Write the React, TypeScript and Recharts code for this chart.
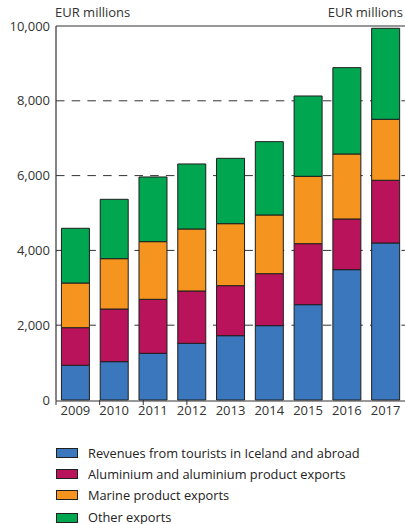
import React from 'react';
import { BarChart, Bar, XAxis, YAxis, CartesianGrid, ReferenceLine, Legend } from 'recharts';

const years = ['2009', '2010', '2011', '2012', '2013', '2014', '2015', '2016', '2017'];
const tourism = [928, 1025, 1248, 1516, 1720, 1988, 2549, 3485, 4198];
const aluminium = [1006, 1408, 1444, 1399, 1337, 1390, 1631, 1355, 1677];
const marine = [1194, 1346, 1542, 1658, 1658, 1569, 1801, 1738, 1631];
const other = [1463, 1587, 1729, 1738, 1747, 1961, 2148, 2309, 2433];
const yTicks = [0, 2000, 4000, 6000, 8000, 10000];
const quarterTicks = [0, 1, 2, 3];

const seriesNames = {
  tourism: 'Revenues from tourists in Iceland and abroad',
  aluminium: 'Aluminium and aluminium product exports',
  marine: 'Marine product exports',
  other: 'Other exports',
};
const colors = {
  tourism: '#3a77bd',
  aluminium: '#b9135b',
  marine: '#f5951f',
  other: '#00a650',
};
const seriesKeys = ['tourism', 'aluminium', 'marine', 'other'] as const;

const data = years.map((year, i) => ({
  year,
  tourism: tourism[i],
  aluminium: aluminium[i],
  marine: marine[i],
  other: other[i],
}));

const FONT = '"Open Sans", "Noto Sans", sans-serif';
const TEXT = '#333333';
const EDGE = '#1f1f1f';

// Unit captions above both ends of the top frame line
const UnitLabels = (props: any) => {
  const vb = props.viewBox || {};
  return (
    <g>
      <text x={vb.x - 1} y={vb.y - 9} textAnchor="start" fontSize={13} fontFamily={FONT} fill={TEXT}>
        EUR millions
      </text>
      <text x={vb.x + vb.width - 2} y={vb.y - 9} textAnchor="end" fontSize={13} fontFamily={FONT} fill={TEXT}>
        EUR millions
      </text>
    </g>
  );
};

const LegendList = () => (
  <div
    style={{
      height: 84,
      paddingTop: 2,
      boxSizing: 'border-box',
      fontFamily: FONT,
      fontSize: 12.8,
      lineHeight: '14px',
      color: '#222',
    }}
  >
    {seriesKeys.map((k, i) => (
      <div
        key={k}
        style={{ height: i === seriesKeys.length - 1 ? 18 : 21.33, display: 'flex', alignItems: i === seriesKeys.length - 1 ? 'flex-start' : 'center', paddingTop: i === seriesKeys.length - 1 ? 3.7 : 0, boxSizing: 'border-box' }}
      >
        <span
          style={{
            display: 'inline-block',
            width: 20,
            height: 8,
            marginLeft: 56,
            marginRight: 10,
            marginTop: i === seriesKeys.length - 1 ? 3 : 0,
            background: colors[k],
            border: `1px solid ${EDGE}`,
          }}
        />
        <span>{seriesNames[k]}</span>
      </div>
    ))}
  </div>
);

export default function App() {
  return (
    <div style={{ position: 'absolute', left: 0, top: 0, width: 405, height: 524, background: '#fff' }}>
      <BarChart
        width={405}
        height={524}
        data={data}
        margin={{ top: 26, right: 0, bottom: 0, left: 0 }}
        barCategoryGap="14%"
      >
        <CartesianGrid
          xAxisId="b"
          yAxisId="left"
          horizontal
          vertical={false}
          stroke={TEXT}
          strokeDasharray="8.5 7.2"
          horizontalValues={[2000, 4000, 6000, 8000]}
        />
        <XAxis
          xAxisId="a"
          type="number"
          domain={[0, 4]}
          allowDataOverflow
          ticks={quarterTicks}
          tickFormatter={() => ''}
          tickSize={5}
          tickLine={{ stroke: TEXT }}
          axisLine={false}
          height={1}
        />
        <XAxis
          xAxisId="b"
          dataKey="year"
          height={39}
          tickLine={false}
          tickSize={0}
          tickMargin={5}
          axisLine={{ stroke: TEXT, strokeWidth: 1.2 }}
          tick={{ fill: TEXT, fontSize: 13, fontFamily: FONT }}
          interval={0}
        />
        <YAxis
          yAxisId="left"
          width={56}
          domain={[0, 10000]}
          ticks={yTicks}
          tickLine={false}
          tickSize={0}
          tickMargin={6}
          axisLine={{ stroke: TEXT, strokeWidth: 1.2 }}
          tick={{ fill: TEXT, fontSize: 13, fontFamily: FONT }}
          tickFormatter={(v: number) => v.toLocaleString('en-US')}
        />
        <ReferenceLine xAxisId="b" yAxisId="left" y={10000} stroke={TEXT} strokeWidth={1.2} label={<UnitLabels />} />
        {seriesKeys.map((k) => (
          <Bar
            key={k}
            xAxisId="b"
            yAxisId="left"
            dataKey={k}
            name={seriesNames[k]}
            stackId="exports"
            fill={colors[k]}
            stroke={EDGE}
            strokeWidth={1}
            isAnimationActive={false}
          />
        ))}
        <Legend verticalAlign="bottom" align="left" content={<LegendList />} wrapperStyle={{ left: 0, width: 405 }} />
      </BarChart>
    </div>
  );
}
